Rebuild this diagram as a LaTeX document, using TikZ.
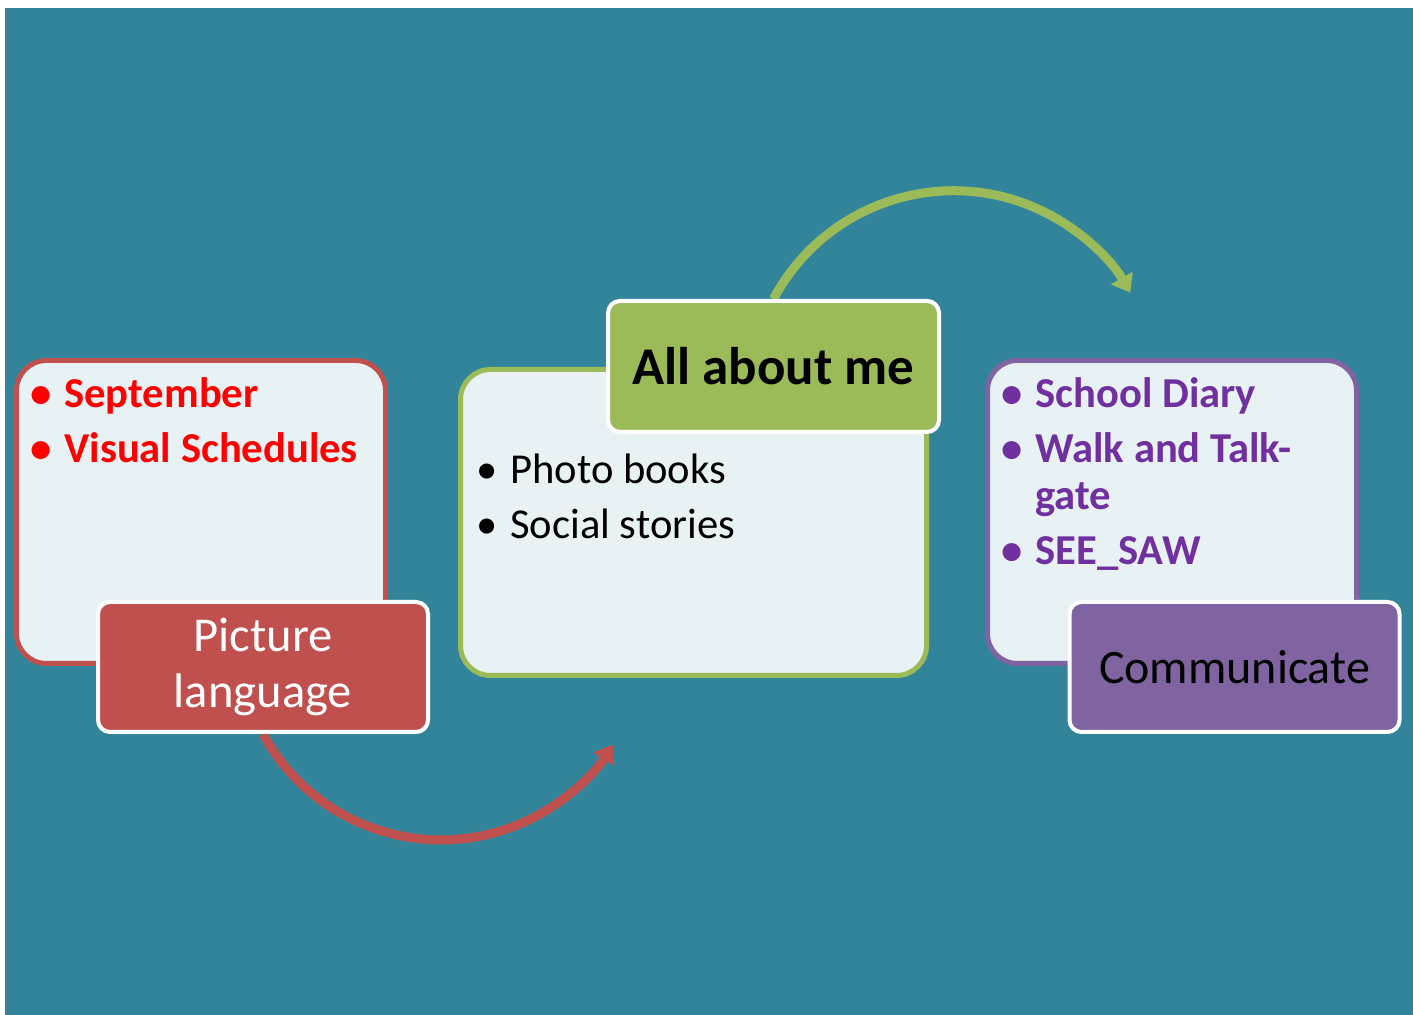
\documentclass[tikz,border=0pt]{standalone}
\usepackage{fontspec}
\setmainfont{Carlito}
\usetikzlibrary{arrows.meta}
\pgfdeclarelayer{back}
\pgfdeclarelayer{arcs}
\pgfsetlayers{back,arcs,main}
\definecolor{slidebg}{HTML}{32849B}
\definecolor{boxfill}{HTML}{E8F1F4}
\definecolor{redline}{HTML}{C0504D}
\definecolor{greenline}{HTML}{9BBB59}
\definecolor{purpline}{HTML}{8064A2}
\definecolor{redtext}{HTML}{FF0000}
\definecolor{purptext}{HTML}{7030A0}
\newcommand{\itembullet}{\makebox[17pt][l]{•}}
\tikzset{
  panel/.style={draw, line width=2.5pt, fill=boxfill, rounded corners=15pt,
    minimum width=184.5pt, minimum height=151.5pt, inner sep=0pt},
  tag/.style={draw=white, line width=2pt, rounded corners=6pt, align=center,
    minimum width=165pt, minimum height=65pt, inner sep=0pt},
  itemlist/.style={anchor=base west, inner sep=0pt, font=\fontsize{21.3}{23.5}\selectfont},
  cyclearrow/.style={line width=4.5pt, -{Triangle[length=8.5pt,width=12pt]}}
}
\begin{document}
\begin{tikzpicture}[x=0.5pt,y=0.5pt]
\useasboundingbox (0,0) rectangle (1413,1015);
\begin{pgfonlayer}{back}
\fill[slidebg] (5,0) rectangle (1413,1007);
\end{pgfonlayer}

\node[panel, draw=redline] (sept) at (201,503) {};
\node[tag, fill=redline, text=white, font=\fontsize{24.3}{28}\selectfont] (piclang) at (263,348) {Picture\\language};
\node[panel, draw=greenline, minimum width=233pt, minimum height=153pt] (photos) at (693.5,492.5) {};
\node[tag, fill=greenline, font=\bfseries\fontsize{26.5}{30}\selectfont,
  minimum width=165.5pt, minimum height=65.5pt] (aboutme) at (773.5,648.5) {All about me};
\node[panel, draw=purpline] (diary) at (1172,503) {};
\node[tag, fill=purpline, font=\fontsize{24}{28}\selectfont] (commun) at (1234.5,348) {Communicate};

\node[itemlist, text=redtext] (redlist) at (30,607) {\bfseries
  \begin{tabular}[t]{@{}l@{}}
  \itembullet September\\[4pt]
  \itembullet Visual Schedules
  \end{tabular}};
\node[itemlist] (greenlist) at (476,531) {%
  \begin{tabular}[t]{@{}l@{}}
  \itembullet Photo books\\[4pt]
  \itembullet Social stories
  \end{tabular}};
\node[itemlist, text=purptext] (purplist) at (1001,607) {\bfseries
  \begin{tabular}[t]{@{}l@{}}
  \itembullet School Diary\\[4pt]
  \itembullet Walk and Talk-\\
  \hspace*{17pt}gate\\[4pt]
  \itembullet SEE\_SAW
  \end{tabular}};

\begin{pgfonlayer}{arcs}
\draw[cyclearrow, redline] (piclang.south) arc[start angle=208.5, end angle=328, radius=202.5];
\draw[cyclearrow, greenline] (aboutme.north) arc[start angle=152, end angle=30, radius=204];
\end{pgfonlayer}
\end{tikzpicture}
\end{document}
